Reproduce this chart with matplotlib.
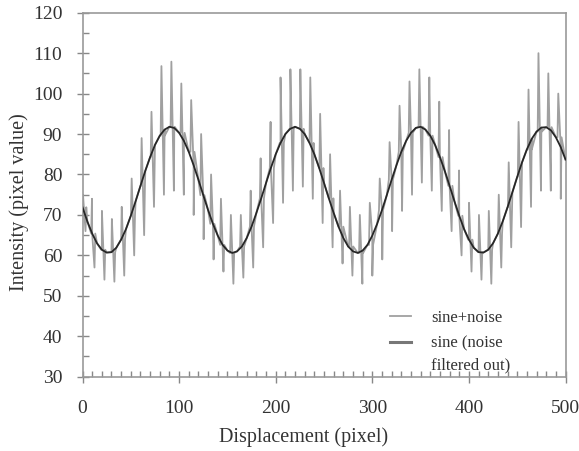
import matplotlib.pyplot as plt
from matplotlib.ticker import MultipleLocator

# smooth sine, read every 5 pixels of displacement
sine_x = list(range(0, 505, 5))
sine_y = [
    71.9, 68.4, 65.4, 63.0, 61.4, 60.7, 60.8, 61.9, 63.9, 66.5,
    69.8, 73.4, 77.2, 80.9, 84.3, 87.3, 89.6, 91.1, 91.8, 91.5,
    90.3, 88.3, 85.6, 82.3, 78.7, 74.9, 71.2, 67.8, 64.9, 62.6,
    61.2, 60.6, 61.0, 62.2, 64.3, 67.1, 70.5, 74.1, 77.9, 81.6,
    85.0, 87.8, 90.0, 91.3, 91.8, 91.3, 90.0, 87.8, 85.0, 81.6,
    77.9, 74.1, 70.5, 67.1, 64.3, 62.2, 61.0, 60.6, 61.2, 62.6,
    64.9, 67.8, 71.2, 74.9, 78.7, 82.3, 85.6, 88.3, 90.3, 91.5,
    91.8, 91.1, 89.6, 87.3, 84.3, 80.9, 77.2, 73.4, 69.8, 66.5,
    63.9, 61.9, 60.8, 60.7, 61.4, 63.0, 65.4, 68.4, 71.9, 75.6,
    79.4, 83.0, 86.2, 88.8, 90.6, 91.6, 91.7, 90.9, 89.2, 86.8,
    83.7,
]

# noise spikes: position, top and bottom of each spike
spike_x = [
    0.5, 9.8, 20.1, 30.4, 40.6, 50.9, 61.2, 71.4, 81.7, 92.0,
    102.3, 112.5, 122.8, 133.1, 143.3, 153.6, 163.9, 174.1, 184.4, 194.7,
    205.0, 215.2, 225.5, 235.8, 246.0, 256.3, 266.6, 276.8, 287.1, 297.4,
    307.7, 317.9, 328.2, 338.5, 348.7, 359.0, 369.3, 379.5, 389.8, 400.1,
    410.4, 420.6, 430.9, 441.2, 451.4, 461.7, 472.0, 482.2, 492.5,
]
spike_top = [
    75, 74, 71, 69, 72, 79, 89, 95.5, 106.8, 107.9,
    102.5, 98.4, 90, 80, 74, 70, 70, 76, 84, 93,
    104, 106, 106, 104, 95, 85, 76, 72, 70, 73,
    79, 88, 97, 103, 106, 104, 98, 91, 81, 73,
    70, 71, 75, 83, 93, 101, 110, 105, 100,
]
spike_bottom = [
    66, 57, 54, 53.5, 55, 60, 65, 72, 75, 76,
    75, 70, 64, 59, 56, 53, 54.5, 57, 62, 68,
    73, 76, 77, 74, 68, 62, 58, 55, 53, 55,
    59, 66, 71, 75, 78, 76, 71, 66, 60, 56,
    54, 53, 57, 62, 67, 72, 76, 76, 74,
]


def noisy_path():
    """Sine path with each spike drawn as a narrow up-down stroke."""
    pts = list(zip(sine_x, sine_y))
    for x, top, bottom in zip(spike_x, spike_top, spike_bottom):
        # spike leaves and rejoins the sine at the nearest read value
        base = sine_y[min(range(len(sine_x)), key=lambda i: abs(sine_x[i] - x))]
        pts += [(x - 0.8, base), (x, top), (x + 2.6, bottom), (x + 3.4, base)]
    pts.sort(key=lambda p: p[0])
    return [p[0] for p in pts], [p[1] for p in pts]


plt.rcParams["font.family"] = ["Liberation Serif", "DejaVu Serif"]

fig = plt.figure(figsize=(5.79, 4.51), dpi=100)
ax = fig.add_axes([0.1425, 0.1647, 0.8342, 0.8071])

nx, ny = noisy_path()
ax.plot(nx, ny, color="#a0a0a0", linewidth=1.3, label="sine+noise", zorder=2)
ax.plot(sine_x, sine_y, color="#262626", linewidth=1.3,
        label="sine (noise\nfiltered out)", zorder=3)

ax.set_xlim(0, 500)
ax.set_ylim(30, 120)
ax.xaxis.set_major_locator(MultipleLocator(100))
ax.xaxis.set_minor_locator(MultipleLocator(10))
ax.yaxis.set_major_locator(MultipleLocator(10))
ax.yaxis.set_minor_locator(MultipleLocator(5))
ax.tick_params(which="major", direction="inout", length=9, width=1.0,
               color="#888888", labelsize=14, labelcolor="#333333")
ax.tick_params(which="minor", direction="in", length=4, width=1.0,
               color="#888888")
ax.tick_params(axis="x", which="major", pad=12)
ax.tick_params(axis="y", which="major", pad=10)
for s in ax.spines.values():
    s.set_color("#999999")
    s.set_linewidth(1.2)

ax.set_xlabel("Displacement (pixel)", fontsize=14.5, color="#333333")
ax.set_ylabel("Intensity (pixel value)", fontsize=14.5, color="#333333")
ax.xaxis.set_label_coords(0.4586, -0.14)
ax.yaxis.set_label_coords(-0.111, 0.481)

leg = ax.legend(loc="lower right", bbox_to_anchor=(0.9, -0.01), frameon=False,
                fontsize=12, handlelength=1.3, handletextpad=1.2,
                labelspacing=0.6, labelcolor="#333333", borderaxespad=0)
leg.get_texts()[1].set_linespacing(1.5)
sine_handle = leg.get_lines()[1]
sine_handle.set_color("#777777")
sine_handle.set_linewidth(2.2)
# put the handle level with the first line of its two-line label
sine_handle.set_ydata([y + 9 for y in sine_handle.get_ydata()])

fig.savefig("out.png", dpi=100)
